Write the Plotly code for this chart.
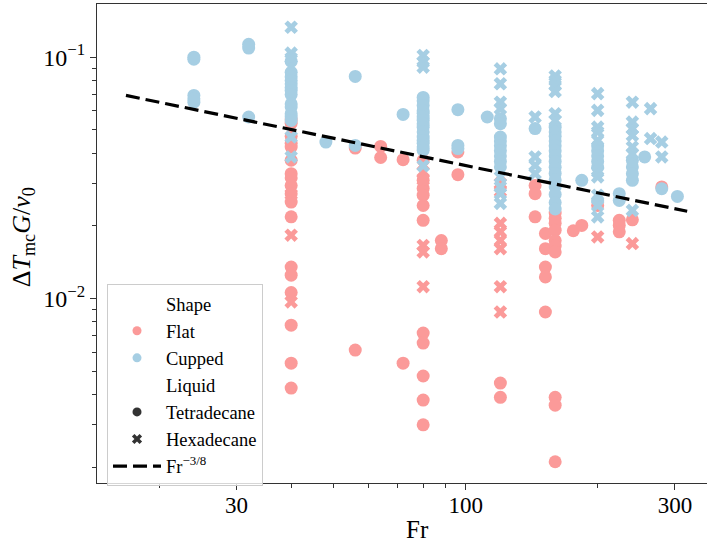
import plotly.graph_objects as go
import numpy as np

FLAT = '#fb9a99'
CUPPED = '#a6cee3'
DARK = '#333333'
FONT = 'Liberation Serif'

# ---- Flat shape, Tetradecane (circles)
flat_tet_fr = [40, 40, 40, 40, 40, 40, 40, 40, 40, 40, 40, 40, 40, 40, 40, 40, 40, 40,
               56, 56, 64, 64, 72, 72,
               80, 80, 80, 80, 80, 80, 80, 80, 80, 80, 80,
               88, 88, 96, 96, 120, 120, 144, 144, 144,
               152, 152, 152, 152, 152,
               160, 160, 160, 160, 160, 160, 160, 160, 160, 160,
               176, 184, 200, 224, 224, 224, 240, 280]
flat_tet_val = [0.0555, 0.0533, 0.047, 0.044, 0.0424, 0.0374, 0.0329, 0.0316, 0.0294, 0.0272,
                0.0251, 0.0218, 0.0135, 0.0125, 0.0106, 0.00776, 0.0054, 0.00426,
                0.042, 0.00612, 0.0427, 0.0384, 0.0376, 0.0054,
                0.0374, 0.0309, 0.0286, 0.0268, 0.0243, 0.0211, 0.0072, 0.00654, 0.00478, 0.0038, 0.003,
                0.0174, 0.0161, 0.0405, 0.0326, 0.00447, 0.0039, 0.0294, 0.0272, 0.0218,
                0.0186, 0.0161, 0.0135, 0.0123, 0.0088,
                0.0226, 0.0215, 0.0205, 0.0192, 0.0174, 0.0165, 0.0156, 0.0039, 0.00362, 0.00211,
                0.0191, 0.0201, 0.0243, 0.0211, 0.0201, 0.0189, 0.0212, 0.029]

# ---- Flat shape, Hexadecane (crosses)
flat_hex_fr = [40, 40, 40, 80, 80, 80, 80, 80,
               120, 120, 120, 120, 120, 120, 120, 120, 200, 240]
flat_hex_val = [0.027, 0.0183, 0.00969, 0.0335, 0.031, 0.0166, 0.0156, 0.0112,
                0.030, 0.0278, 0.0205, 0.0189, 0.0174, 0.0161, 0.0112, 0.0088, 0.018, 0.0169]

# ---- Cupped shape, Tetradecane (circles)
cup_tet_fr = [24, 24, 24, 24, 24, 32, 32, 32,
              40, 40, 40, 40, 40, 40, 40, 40, 40, 40, 40, 40, 40,
              48, 56, 56, 72,
              80, 80, 80, 80, 80, 80, 80, 80, 80, 80, 80, 80, 80, 80, 80,
              96, 96, 96, 112,
              120, 120, 120, 120, 120, 120, 120, 120, 120,
              144,
              160, 160, 160, 160, 160, 160, 160, 160, 160, 160, 160, 160, 160, 160, 160,
              184, 200, 200, 200, 200, 200, 200, 224, 224,
              240, 240, 240, 240, 256, 280, 304]
cup_tet_val = [0.1, 0.098, 0.0694, 0.0672, 0.0651, 0.113, 0.109, 0.0565,
               0.096, 0.0865, 0.083, 0.080, 0.0776, 0.0748, 0.0728, 0.070, 0.064, 0.0622, 0.0583, 0.0565, 0.0547,
               0.0445, 0.0832, 0.0431, 0.0579,
               0.0681, 0.066, 0.0631, 0.060, 0.0585, 0.0565, 0.0548, 0.053, 0.0513, 0.049, 0.0467, 0.0452, 0.044, 0.0425, 0.0412,
               0.0606, 0.0431, 0.0418, 0.0565,
               0.0556, 0.053, 0.0467, 0.045, 0.043, 0.041, 0.039, 0.037, 0.0351,
               0.0506,
               0.0513, 0.049, 0.047, 0.045, 0.043, 0.041, 0.039, 0.037, 0.035, 0.033, 0.031, 0.029, 0.027, 0.025, 0.0235,
               0.0309, 0.043, 0.041, 0.039, 0.037, 0.035, 0.0255, 0.0272, 0.0255,
               0.0374, 0.0351, 0.0329, 0.0309, 0.0386, 0.0285, 0.0265]

# ---- Cupped shape, Hexadecane (crosses)
cup_hex_fr = [40, 40, 40, 40, 40, 80, 80, 80, 80,
              120, 120, 120, 120, 120, 120, 120, 120,
              144, 144, 144, 144,
              160, 160, 160, 160, 160, 160,
              200, 200, 200, 200, 200, 200, 200, 200, 200, 200,
              240, 240, 240, 240, 240, 240, 240,
              264, 264, 280, 280]
cup_hex_val = [0.133, 0.104, 0.099, 0.0467, 0.0386, 0.1016, 0.0954, 0.0909, 0.0355,
               0.0895, 0.0776, 0.0651, 0.0612, 0.0319, 0.029, 0.0272, 0.0248,
               0.0565, 0.0386, 0.0356, 0.0329,
               0.0836, 0.080, 0.0764, 0.072, 0.0583, 0.0547,
               0.0706, 0.0602, 0.0513, 0.049, 0.0452, 0.0335, 0.0319, 0.0268, 0.0243, 0.0218,
               0.0651, 0.0538, 0.0506, 0.0474, 0.0424, 0.0398, 0.0232,
               0.0612, 0.046, 0.0445, 0.0386]

# ---- scaling law Fr^(-3/8)
law_coef = 0.2
law_exp = -3.0 / 8.0
law_fr_span = [16.8, 320]

x_ticks = [30, 100, 300]
x_minor = [20, 40, 50, 60, 70, 80, 90, 200]
y_ticks = [0.01, 0.1]
y_ticktext = ['10<sup>\u22122</sup>', '10<sup>\u22121</sup>']
y_minor = [0.002, 0.003, 0.004, 0.005, 0.006, 0.007, 0.008, 0.009,
           0.02, 0.03, 0.04, 0.05, 0.06, 0.07, 0.08, 0.09]

fig = go.Figure()

def legend_item(name, color, symbol='circle', size=9):
    fig.add_trace(go.Scatter(x=[None], y=[None], mode='markers', name=name,
                             marker=dict(color=color, symbol=symbol, size=size,
                                         line=dict(width=0)),
                             showlegend=True, hoverinfo='skip'))

legend_item('Shape', 'rgba(0,0,0,0)')
legend_item('Flat', FLAT)
legend_item('Cupped', CUPPED)
legend_item('Liquid', 'rgba(0,0,0,0)')
legend_item('Tetradecane', DARK, 'circle')
legend_item('Hexadecane', DARK, 'x', 9)

def scatter(xs, ys, color, symbol, size):
    fig.add_trace(go.Scatter(x=xs, y=ys, mode='markers', showlegend=False,
                             marker=dict(color=color, symbol=symbol, size=size,
                                         line=dict(width=0))))

scatter(flat_tet_fr, flat_tet_val, FLAT, 'circle', 13)
scatter(flat_hex_fr, flat_hex_val, FLAT, 'x', 12)
scatter(cup_tet_fr, cup_tet_val, CUPPED, 'circle', 13)
scatter(cup_hex_fr, cup_hex_val, CUPPED, 'x', 12)

lx = np.geomspace(law_fr_span[0], law_fr_span[1], 50)
fig.add_trace(go.Scatter(x=lx, y=law_coef * lx ** law_exp, mode='lines',
                         name='Fr<sup>\u22123/8</sup>',
                         line=dict(color='black', width=3.2, dash='14px,6px')))

xlo = np.log10(14.43)
xhi = xlo + 610 / 438.5
yhi = -1 + 53.2 / 241.7
ylo = yhi - 479.5 / 241.7

fig.update_layout(
    width=707, height=542,
    margin=dict(l=97, r=0, t=3.5, b=59, autoexpand=False),
    paper_bgcolor='white', plot_bgcolor='white',
    font=dict(family=FONT, color='black'),
    showlegend=True,
    legend=dict(x=0.0164, y=0.415, xanchor='left', yanchor='top',
                bgcolor='rgba(255,255,255,0.8)', bordercolor='#cccccc', borderwidth=1,
                font=dict(family=FONT, size=18.5, color='black'),
                itemwidth=48, traceorder='normal'),
    xaxis=dict(type='log', range=[xlo, xhi], showgrid=False, zeroline=False,
               automargin=False, ticklabelstandoff=-5,
               showline=True, linecolor='#333333', linewidth=1.1, mirror=True,
               tickmode='array', tickvals=x_ticks, ticktext=[str(v) for v in x_ticks],
               ticks='outside', ticklen=6, tickwidth=1, tickcolor='#333333',
               tickfont=dict(family=FONT, size=23, color='black'),
               minor=dict(tickmode='array', tickvals=x_minor, ticks='outside',
                          ticklen=3.5, tickwidth=0.8, tickcolor='#333333', showgrid=False),
               title=dict(text='')),
    yaxis=dict(type='log', range=[ylo, yhi], showgrid=False, zeroline=False,
               automargin=False,
               showline=True, linecolor='#333333', linewidth=1.1, mirror=False,
               tickmode='array', tickvals=y_ticks, ticktext=y_ticktext,
               ticks='outside', ticklen=6, tickwidth=1, tickcolor='#333333',
               tickfont=dict(family=FONT, size=24, color='black'),
               minor=dict(tickmode='array', tickvals=y_minor, ticks='outside',
                          ticklen=3.5, tickwidth=0.8, tickcolor='#333333', showgrid=False),
               title=dict(text='')),
    annotations=[
        dict(text='Fr', xref='paper', yref='paper', x=(417 - 97) / 610, y=-(530 - 483) / 479.5,
             xanchor='center', yanchor='middle', showarrow=False,
             font=dict(family=FONT, size=25, color='black')),
        dict(text='\u0394<i>T</i><sub>mc</sub><i>G</i>/<i>v</i><sub>0</sub>',
             xref='paper', yref='paper', x=-(97 - 23) / 610, y=(483 - 237) / 479.5,
             xanchor='center', yanchor='middle', showarrow=False, textangle=-90,
             font=dict(family=FONT, size=26, color='black')),
    ],
)

fig.write_html('out.html', config={'displayModeBar': False},
               post_script="document.body.style.margin='0px';")
